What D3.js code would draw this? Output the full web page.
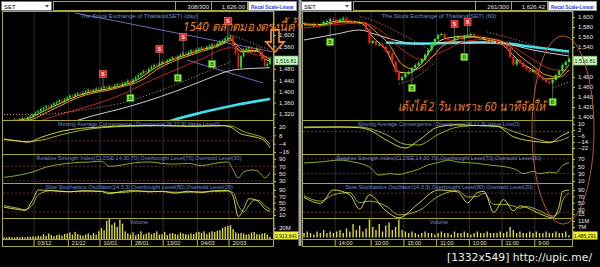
<!DOCTYPE html>
<html>
<head>
<meta charset="utf-8">
<script src="https://cdn.jsdelivr.net/npm/d3@7/dist/d3.min.js"></script>
<style>
body { margin: 0; background: #000; }
svg { display: block; }
text { font-family: "Liberation Sans", Arial, sans-serif; }
</style>
</head>
<body>
<script>
// ---- left panel: SET daily ----
const leftDates = ["03/12", "21/12", "10/01", "28/01", "13/02", "04/03", "20/03"];
const leftDateIdx = [12, 25, 37, 49, 61, 74, 86];
const leftClose = [
  1288, 1292, 1285, 1295, 1300, 1296, 1302, 1305, 1299, 1308, 1312,
  1318, 1325, 1330, 1338, 1342, 1348, 1345, 1352, 1358, 1362,
  1368, 1365, 1372, 1378, 1385, 1382, 1390, 1394, 1388, 1396,
  1400, 1405, 1398, 1404, 1410, 1406, 1412, 1416, 1410, 1418,
  1415, 1422, 1426, 1420, 1428, 1432, 1438, 1430, 1442, 1450,
  1458, 1465, 1472, 1468, 1480, 1488, 1494, 1490, 1500, 1505,
  1502, 1510, 1515, 1520, 1516, 1524, 1530, 1535, 1528, 1538,
  1545, 1540, 1548, 1552, 1555, 1550, 1558, 1562, 1566, 1560,
  1570, 1576, 1580, 1588, 1592, 1596, 1560, 1535, 1485, 1525,
  1548, 1552, 1556, 1548, 1545, 1552, 1540, 1512, 1490, 1498, 1516.81
];
const leftVolume = [
  3, 3, 4, 3, 3, 4, 3, 4, 3, 4,
  4, 5, 4, 6, 5, 9, 6, 10, 7, 5,
  7, 8, 6, 9, 10, 12, 8, 13, 9, 7,
  6, 8, 10, 7, 11, 8, 14, 20, 16, 33,
  37, 26, 30, 22, 35, 28, 14, 10, 8, 12,
  7, 9, 14, 8, 10, 12, 9, 11, 14, 8,
  9, 13, 7, 10, 11, 9, 8, 12, 10, 9,
  8, 10, 9, 12, 13, 11, 14, 9, 12, 14,
  13, 15, 16, 20, 22, 24, 25, 18, 12, 10,
  11, 10, 8, 9, 12, 13, 9, 8, 10, 11, 8, 3.913641
];
const leftMaYellow = [[0,1292],[6,1298],[11,1310],[16,1335],[22,1360],[28,1385],[34,1400],[40,1410],[46,1425],[50,1438],[54,1462],[58,1488],[62,1505],[66,1520],[70,1532],[75,1548],[80,1560],[84,1578],[86,1588],[88,1560],[90,1540],[93,1545],[96,1545],[99,1515],[101,1508]];
const leftMaOrange = [[0,1288],[11,1302],[16,1325],[22,1352],[28,1378],[34,1395],[40,1405],[46,1420],[50,1430],[54,1450],[58,1478],[62,1497],[66,1513],[70,1526],[75,1542],[80,1556],[84,1572],[86,1582],[88,1570],[90,1550],[93,1540],[96,1542],[99,1525],[101,1512]];
const leftMaRed = [[0,1262],[10,1285],[20,1315],[30,1342],[37,1362],[45,1390],[56,1440],[66,1480],[75,1515],[86,1555],[90,1545],[95,1532],[101,1520]];
const leftMaWhite = [[0,1235],[20,1275],[33,1312],[45,1340],[54,1365],[65,1400],[76,1440],[87,1476],[95,1482],[101,1484]];
const leftMaCyan = [[40,1230],[55,1268],[64,1298],[75,1325],[88,1352],[101,1373]];
const leftDotted = [[[0,1318],[11,1318],[20,1322],[30,1335],[45,1360],[56,1392],[66,1428],[76,1466],[86,1505]], [[86,1600],[92,1580],[97,1560],[101,1548]]];
const leftTrend = [[[27,1678],[102,1540]], [[69.5,1511],[98.3,1430]]];
const leftSignals = [
  {i: 37.6, v: 1462, t: "S"}, {i: 59, v: 1550, t: "S"}, {i: 68, v: 1593, t: "S"}, {i: 85, v: 1650, t: "S"},
  {i: 48, v: 1377, t: "B"}, {i: 66, v: 1448, t: "B"}, {i: 79, v: 1497, t: "B"}
];
const leftMacd = [[0,2],[5,0],[9,-2],[14,5],[22,14],[29,18],[37,20],[48,22],[60,22],[71,21],[83,22],[87,18],[89,12],[92,8],[96,5],[99,0],[101,-10]];
const leftMacdSig = [[0,3],[9,-1],[14,1],[22,9],[29,15],[37,19],[48,21],[60,22],[71,21],[83,22],[87,21],[89,17],[92,12],[96,8],[99,3],[101,-5]];
const leftRsi = [[0,40],[5,45],[11,55],[16,68],[20,74],[27,80],[33,82],[37,84],[40,70],[45,74],[50,80],[55,82],[60,78],[65,76],[70,78],[75,72],[80,78],[85,82],[87,60],[89,38],[91,55],[94,60],[96,58],[98,45],[99,38],[101,52]];
const leftStochK = [[0,35],[5,28],[8,25],[11,60],[13,90],[18,88],[25,84],[30,88],[37,85],[40,78],[45,86],[50,88],[55,84],[60,86],[65,80],[70,86],[75,82],[80,88],[85,88],[87,70],[89,5],[91,30],[93,62],[95,60],[97,50],[99,30],[101,22]];
const leftStochD = [[0,40],[5,32],[8,27],[11,45],[13,75],[18,88],[25,85],[30,86],[37,86],[40,82],[45,82],[50,86],[55,86],[60,85],[65,83],[70,83],[75,84],[80,85],[85,87],[87,82],[89,40],[91,20],[93,40],[95,58],[97,56],[99,40],[101,28]];

// ---- right panel: SET 60 minutes ----
const rightDates = ["14:00", "10:00", "15:00", "11:00", "10:00", "11:00", "9:00"];
const rightDateIdx = [10, 21, 31, 41, 51, 61, 71];
const rightClose = [
  1588, 1585, 1582, 1586, 1584, 1584, 1590, 1592, 1596, 1594,
  1592, 1595, 1598, 1593, 1592, 1590, 1588, 1590, 1586, 1575,
  1548, 1552, 1545, 1545, 1540, 1532, 1528, 1510, 1490, 1474,
  1480, 1486, 1490, 1498, 1504, 1508, 1515, 1525, 1534, 1545,
  1556, 1564, 1566, 1558, 1554, 1552, 1558, 1560, 1556, 1562,
  1564, 1566, 1562, 1560, 1556, 1558, 1552, 1550, 1552, 1548,
  1546, 1544, 1538, 1520, 1505, 1514, 1508, 1500, 1495, 1490,
  1494, 1486, 1480, 1474, 1470, 1468, 1474, 1484, 1492, 1504, 1510, 1516.81
];
const rightVolume = [
  3, 4, 3, 2, 4, 3, 5, 3, 4, 3,
  4, 5, 3, 6, 4, 9, 5, 8, 4, 6,
  12, 7, 5, 9, 4, 8, 10, 5, 7, 12,
  5, 4, 3, 4, 3, 2, 3, 4, 3, 3,
  2, 3, 4, 3, 3, 2, 4, 3, 3, 4,
  3, 2, 3, 4, 3, 3, 4, 3, 3, 3,
  4, 3, 4, 7, 5, 3, 4, 3, 3, 4,
  3, 4, 3, 3, 4, 3, 3, 4, 3, 3, 4, 1.485291
];
const rightMaYellow = [[0,1586],[5,1585],[10,1592],[15,1591],[18,1586],[21,1560],[25,1535],[29,1490],[32,1488],[36,1508],[40,1545],[44,1558],[50,1562],[56,1554],[60,1548],[63,1530],[66,1510],[70,1494],[74,1476],[77,1478],[81,1505]];
const rightMaOrange = [[0,1584],[6,1585],[12,1590],[18,1589],[22,1570],[26,1545],[30,1505],[34,1495],[38,1512],[42,1540],[46,1554],[52,1560],[58,1555],[62,1546],[66,1522],[70,1502],[74,1484],[78,1480],[81,1494]];
const rightMaRed = [[0,1578],[10,1585],[18,1588],[24,1570],[30,1535],[36,1515],[42,1530],[50,1552],[58,1556],[64,1540],[70,1515],[76,1495],[81,1492]];
const rightMaWhite = [[0,1554],[10,1566],[17,1574],[22,1565],[27,1555],[35,1546],[45,1550],[55,1550],[62,1546],[70,1534],[81,1522]];
const rightMaCyan = [[25,1549],[35,1547],[45,1548],[55,1549],[62,1547],[70,1540],[81,1531]];
const rightDotted = [[[17,1602],[24,1585],[30,1565],[38,1536]], [[56,1570],[64,1556],[72,1540],[81,1526]], [[29,1466],[34,1478],[40,1510]], [[76,1458],[81,1470]]];
const rightTrend = [];
const rightSignals = [
  {i: 46, v: 1586, t: "S"}, {i: 50, v: 1590, t: "S"},
  {i: 8, v: 1550, t: "B"}, {i: 33, v: 1458, t: "B"}, {i: 49, v: 1520, t: "B"}, {i: 76, v: 1430, t: "B"}
];
const rightMacd = [[0,6],[11,6],[17,5],[20,2],[25,-11],[31,-22],[35,-12],[41,6],[47,9],[53,8],[59,7],[64,-7],[72,-14],[75,-15],[79,-5],[81,-1]];
const rightMacdSig = [[0,5],[11,6],[17,6],[20,4],[25,-4],[31,-17],[35,-18],[41,-4],[47,6],[53,8],[59,7],[64,0],[72,-11],[75,-14],[79,-11],[81,-7]];
const rightRsi = [[0,59],[5,62],[11,67],[15,62],[20,48],[23,26],[26,30],[29,28],[32,34],[35,42],[38,54],[41,60],[44,67],[47,62],[53,58],[58,52],[62,48],[65,40],[67,30],[70,36],[72,30],[75,34],[77,32],[79,52],[81,60]];
const rightStochK = [[0,67],[5,48],[9,90],[14,75],[17,30],[20,75],[25,25],[29,3],[35,48],[41,90],[47,84],[50,50],[53,82],[55,86],[58,20],[61,60],[64,25],[66,40],[68,35],[72,16],[76,3],[78,40],[79,85],[81,90]];
const rightStochD = [[0,72],[5,55],[9,75],[14,82],[17,50],[20,55],[25,40],[29,12],[35,25],[41,70],[47,88],[50,68],[53,70],[55,80],[58,45],[61,45],[64,40],[66,33],[68,38],[72,25],[76,8],[78,20],[79,55],[81,80]];

const W = 600, H = 267;
const OLIVE = "#a8a830";
const panes = {price: [11, 120], macd: [120, 154], rsi: [154, 183], stoch: [183, 218], vol: [218, 239], date: [239, 246]};

const svg = d3.select("body").append("svg").attr("width", W).attr("height", H).style("background", "#000");

function smooth(x, y) {
  return d3.line().x(d => x(d[0])).y(d => y(d[1])).curve(d3.curveMonotoneX);
}

function axisAt(g, p, scale, ticks, fmt) {
  const a = g.append("g").attr("transform", `translate(${p.right + 1},0)`)
    .call(d3.axisRight(scale).tickValues(ticks).tickFormat(fmt).tickSize(2).tickPadding(3));
  a.select(".domain").remove();
  a.selectAll("line").attr("stroke", "#b0b0b0");
  a.selectAll("text").attr("fill", "#e8e8e8").style("font-size", "6px");
}

function header(g, p) {
  const o = p.left - 2;
  g.append("rect").attr("x", o + 1.5).attr("y", 1.5).attr("width", 50).attr("height", 9).attr("fill", "#fff").attr("stroke", "#777");
  g.append("text").attr("x", o + 4).attr("y", 8.5).attr("fill", "#000").style("font-size", "6px").text("SET");
  g.append("path").attr("d", `M${o + 45},5 h4 l-2,2.5 z`).attr("fill", "#444");
  const boxes = [[o + 53, 122, ""], [o + 175, 36, p.count], [o + 211, 36, p.last]];
  boxes.forEach(b => {
    g.append("rect").attr("x", b[0] + 0.5).attr("y", 1.5).attr("width", b[1]).attr("height", 9).attr("fill", "#000").attr("stroke", OLIVE);
    g.append("text").attr("x", b[0] + b[1] - 2).attr("y", 8.5).attr("text-anchor", "end")
      .attr("fill", "#e0e0e0").style("font-size", "6px").text(b[2]);
  });
  g.append("rect").attr("x", o + 248.5).attr("y", 1.5).attr("width", 48).attr("height", 9).attr("fill", "#fff").attr("stroke", "#999");
  g.append("text").attr("x", o + 251).attr("y", 8.5).attr("fill", "#2a3ad8")
    .style("font-size", "5.8px").style("font-weight", "bold")
    .attr("textLength", 43).attr("lengthAdjust", "spacingAndGlyphs").text("Recal Scale-Linear");
}

function drawPanel(p) {
  const g = svg.append("g");
  const n = p.close.length;
  const x = d3.scaleLinear().domain([0, n - 1]).range([p.left + 2, p.right - 3]);
  const yP = d3.scaleLinear().domain(p.priceDomain).range(p.priceRange);
  const yM = d3.scaleLinear().domain(p.macdDomain).range(p.macdRange);
  const yR = d3.scaleLinear().domain(p.rsiDomain).range(p.rsiRange);
  const yS = d3.scaleLinear().domain(p.stochDomain).range(p.stochRange);
  const yV = d3.scaleLinear().domain(p.volDomain).range(p.volRange);

  const clipId = "clip" + p.left;
  svg.append("clipPath").attr("id", clipId).append("rect")
    .attr("x", p.left).attr("y", panes.price[0] + 1).attr("width", p.right - p.left).attr("height", panes.price[1] - panes.price[0] - 1);

  // vertical grid at the date ticks
  g.selectAll("line.vg").data(p.dateIdx).join("line").attr("class", "vg")
    .attr("x1", d => x(d) - 1.5).attr("x2", d => x(d) - 1.5)
    .attr("y1", panes.price[0]).attr("y2", panes.date[1])
    .attr("stroke", "#2e2e2e").attr("stroke-width", 1);

  // pane frames
  Object.values(panes).forEach(r => {
    g.append("rect").attr("x", p.left + 0.5).attr("y", r[0] + 0.5).attr("width", p.right - p.left).attr("height", r[1] - r[0])
      .attr("fill", "none").attr("stroke", OLIVE).attr("stroke-width", 1);
  });

  // ---- price pane ----
  const pg = g.append("g").attr("clip-path", `url(#${clipId})`);
  pg.append("text").attr("x", p.left + 137).attr("y", 18).attr("text-anchor", "middle")
    .attr("fill", "#6e8ed6").style("font-size", "6px").text(p.title);
  p.trend.forEach(t => pg.append("path").attr("d", smooth(x, yP).curve(d3.curveLinear)(t))
    .attr("fill", "none").attr("stroke", "#7d78c8").attr("stroke-width", 0.9));
  pg.append("path").attr("d", smooth(x, yP)(p.maCyan)).attr("fill", "none").attr("stroke", "#3fe0ea").attr("stroke-width", 2.6);
  pg.append("path").attr("d", smooth(x, yP)(p.maWhite)).attr("fill", "none").attr("stroke", "#cfcfcf").attr("stroke-width", 1);
  pg.append("path").attr("d", smooth(x, yP)(p.maRed)).attr("fill", "none").attr("stroke", "#c42020").attr("stroke-width", 1);
  p.dotted.forEach(s => pg.append("path").attr("d", smooth(x, yP)(s)).attr("fill", "none")
    .attr("stroke", "#e09090").attr("stroke-width", 1).attr("stroke-dasharray", "1,2"));
  pg.append("path").attr("d", smooth(x, yP)(p.maOrange)).attr("fill", "none").attr("stroke", "#ff9a20").attr("stroke-width", 1);
  pg.append("path").attr("d", smooth(x, yP)(p.maYellow)).attr("fill", "none").attr("stroke", "#f0e030").attr("stroke-width", 1);

  const bars = p.close.map((c, i) => ({i: i, o: i ? p.close[i - 1] : c, c: c}));
  const up = d => d.c >= d.o;
  pg.selectAll("line.wick").data(bars).join("line").attr("class", "wick")
    .attr("x1", d => x(d.i)).attr("x2", d => x(d.i))
    .attr("y1", d => yP(Math.max(d.o, d.c)) - 1.5).attr("y2", d => yP(Math.min(d.o, d.c)) + 1.5)
    .attr("stroke", d => up(d) ? "#30e030" : "#e82020").attr("stroke-width", 0.7);
  pg.selectAll("rect.body").data(bars).join("rect").attr("class", "body")
    .attr("x", d => x(d.i) - p.bw / 2).attr("width", p.bw)
    .attr("y", d => yP(Math.max(d.o, d.c))).attr("height", d => Math.max(1, Math.abs(yP(d.o) - yP(d.c))))
    .attr("fill", d => up(d) ? "#30e030" : "#e82020");

  // buy / sell signals
  const sig = pg.selectAll("g.sig").data(p.signals).join("g").attr("class", "sig")
    .attr("transform", d => `translate(${x(d.i)},${yP(d.v)})`);
  sig.append("line").attr("x1", 0).attr("x2", 0).attr("y1", 0)
    .attr("y2", d => yP(p.close[Math.round(d.i)]) - yP(d.v)).attr("stroke", "#9a9a9a").attr("stroke-width", 0.6);
  sig.append("rect").attr("x", -3.5).attr("y", -3.5).attr("width", 7).attr("height", 7)
    .attr("fill", d => d.t === "S" ? "#e02828" : "#8cf048").attr("stroke", d => d.t === "S" ? "#ff7070" : "#3c9c10").attr("stroke-width", 0.6);
  sig.append("text").attr("y", 2).attr("text-anchor", "middle").style("font-size", "5px").style("font-weight", "bold")
    .attr("fill", d => d.t === "S" ? "#fff" : "#1a5a00").text(d => d.t);

  axisAt(g, p, yP, p.priceTicks, d3.format(","));
  const lastY = yP(p.close[n - 1]) + 2;
  g.append("rect").attr("x", p.right + 1).attr("y", lastY - 4.5).attr("width", 24).attr("height", 9)
    .attr("fill", "#c8f8c0").attr("stroke", "#50a050").attr("stroke-width", 0.6);
  g.append("text").attr("x", p.right + 2.5).attr("y", lastY + 2.2).attr("fill", "#103010").style("font-size", "6px")
    .attr("textLength", 21).attr("lengthAdjust", "spacingAndGlyphs")
    .text(d3.format(",.2f")(p.close[n - 1]));

  // ---- indicator panes ----
  function refLine(scale, v) {
    g.append("line").attr("x1", p.left + 1).attr("x2", p.right).attr("y1", scale(v)).attr("y2", scale(v))
      .attr("stroke", "#8a3030").attr("stroke-width", 0.8).attr("stroke-dasharray", "2,2");
  }
  function paneTitle(y, s) {
    g.append("text").attr("x", p.left + 137).attr("y", y).attr("text-anchor", "middle")
      .attr("fill", "#6e8ed6").style("font-size", "5.5px").text(s);
  }
  function ind(scale, data, color) {
    g.append("path").attr("d", smooth(x, scale)(data)).attr("fill", "none").attr("stroke", color).attr("stroke-width", 0.9);
  }

  refLine(yM, 0);
  paneTitle(126, "Moving Average Convergence / Divergence(26,12,9),Value Line(0)");
  ind(yM, p.macdSig, "#a8c838");
  ind(yM, p.macd, "#e8e850");
  axisAt(g, p, yM, p.macdTicks, d3.format("d"));

  refLine(yR, 70);
  refLine(yR, 30);
  paneTitle(160, "Relative Strength Index(CLOSE,14,30,70),Overbought Level(70),Oversold Level(30)");
  ind(yR, p.rsi, "#9cbc30");
  axisAt(g, p, yR, p.rsiTicks, d3.format("d"));

  refLine(yS, 80);
  refLine(yS, 20);
  paneTitle(189, "Slow Stochastics Oscillator(14,3,3),Overbought Level(80),Oversold Level(20)");
  ind(yS, p.stochD, "#a8c838");
  ind(yS, p.stochK, "#e8e850");
  axisAt(g, p, yS, p.stochTicks, d3.format("d"));

  paneTitle(224, "Volume");
  g.selectAll("rect.vol").data(p.volume).join("rect").attr("class", "vol")
    .attr("x", (d, i) => x(i) - 0.7).attr("width", 1.4)
    .attr("y", d => Math.max(panes.vol[0] + 1, yV(d))).attr("height", d => yV(0) - Math.max(panes.vol[0] + 1, yV(d)))
    .attr("fill", "#dada3a");
  axisAt(g, p, yV, p.volTicks, d => d + "M");
  g.append("rect").attr("x", p.right + 1).attr("y", 231.5).attr("width", 24.5).attr("height", 8).attr("fill", "#f4f430");
  g.append("text").attr("x", p.right + 2).attr("y", 238).attr("fill", "#000").style("font-size", "6px")
    .attr("textLength", 22).attr("lengthAdjust", "spacingAndGlyphs")
    .text(d3.format(",")(Math.round(p.volume[n - 1] * 1e6)));

  // axis line
  g.append("line").attr("x1", p.right + 1).attr("x2", p.right + 1).attr("y1", panes.price[0]).attr("y2", panes.vol[1])
    .attr("stroke", OLIVE).attr("stroke-width", 1);

  // date axis
  g.selectAll("line.dt").data(p.dateIdx).join("line").attr("class", "dt")
    .attr("x1", d => x(d) - 1.5).attr("x2", d => x(d) - 1.5).attr("y1", panes.date[0]).attr("y2", panes.date[1])
    .attr("stroke", OLIVE);
  g.selectAll("text.dt").data(p.dates).join("text").attr("class", "dt")
    .attr("x", (d, i) => x(p.dateIdx[i]) + 2).attr("y", 245).attr("fill", "#e8e8b0").style("font-size", "5.5px").text(d => d);

  header(g, p);
}

drawPanel({
  left: 2, right: 273, bw: 1.7, count: "308/300", last: "1,626.00",
  title: "The Stock Exchange of Thailand(SET) (day)",
  close: leftClose, volume: leftVolume, dates: leftDates, dateIdx: leftDateIdx,
  maYellow: leftMaYellow, maOrange: leftMaOrange, maRed: leftMaRed, maWhite: leftMaWhite, maCyan: leftMaCyan,
  dotted: leftDotted, trend: leftTrend, signals: leftSignals,
  macd: leftMacd, macdSig: leftMacdSig, rsi: leftRsi, stochK: leftStochK, stochD: leftStochD,
  priceDomain: [1320, 1600], priceRange: [114, 35], priceTicks: [1320, 1360, 1400, 1440, 1480, 1560, 1600],
  macdDomain: [-16, 20], macdRange: [152, 127], macdTicks: [20, 8, -4, -16],
  rsiDomain: [30, 90], rsiRange: [181, 159], rsiTicks: [90, 70, 50, 30],
  stochDomain: [10, 90], stochRange: [215, 190], stochTicks: [90, 70, 50, 30, 10],
  volDomain: [0, 20], volRange: [239, 228], volTicks: [20]
});

drawPanel({
  left: 302, right: 572, bw: 2.2, count: "261/300", last: "1,626.42",
  title: "The Stock Exchange of Thailand(SET) (60)",
  close: rightClose, volume: rightVolume, dates: rightDates, dateIdx: rightDateIdx,
  maYellow: rightMaYellow, maOrange: rightMaOrange, maRed: rightMaRed, maWhite: rightMaWhite, maCyan: rightMaCyan,
  dotted: rightDotted, trend: rightTrend, signals: rightSignals,
  macd: rightMacd, macdSig: rightMacdSig, rsi: rightRsi, stochK: rightStochK, stochD: rightStochD,
  priceDomain: [1400, 1600], priceRange: [117, 17], priceTicks: [1400, 1420, 1440, 1460, 1480, 1540, 1560, 1580, 1600],
  macdDomain: [-22, 10], macdRange: [148, 124], macdTicks: [10, 2, -6, -14, -22],
  rsiDomain: [10, 70], rsiRange: [181, 159], rsiTicks: [70, 50, 30, 10],
  stochDomain: [10, 90], stochRange: [215.5, 190], stochTicks: [90, 70, 50, 30, 15],
  volDomain: [0, 11], volRange: [237.5, 221], volTicks: [11, 7]
});

// separator between the two charts
svg.append("rect").attr("x", 298.5).attr("y", 0).attr("width", 3).attr("height", 246).attr("fill", "#a8a8a8");

// ---- hand drawn notes ----
svg.append("ellipse").attr("cx", 563).attr("cy", 130).attr("rx", 31).attr("ry", 94)
  .attr("fill", "none").attr("stroke", "#b85a28").attr("stroke-width", 1);
svg.append("path").attr("d", "M271,30 h8 v12 h5 l-9,10 l-9,-10 h5 z")
  .attr("fill", "none").attr("stroke", "#e8862a").attr("stroke-width", 1.8);
svg.append("text").attr("x", 183).attr("y", 31).attr("fill", "#e8802e").style("font-size", "13px").style("font-style", "italic")
  .style("font-family", "'Noto Sans', 'DejaVu Sans', sans-serif")
  .attr("textLength", 118).attr("lengthAdjust", "spacingAndGlyphs").text("1540 ตลาดมองตรงนี้ค้ำ");
svg.append("text").attr("x", 398).attr("y", 111).attr("fill", "#e8802e").style("font-size", "13px").style("font-style", "italic")
  .style("font-family", "'Noto Sans', 'DejaVu Sans', sans-serif")
  .attr("textLength", 148).attr("lengthAdjust", "spacingAndGlyphs").text("เด้งได้ 2 วัน เพราะ 60 นาทีจัดให้");

svg.append("text").attr("x", 447).attr("y", 261).attr("fill", "#f0f0f0").style("font-size", "11px")
  .style("font-family", "'DejaVu Sans', sans-serif").attr("textLength", 145).attr("lengthAdjust", "spacingAndGlyphs")
  .text("[1332x549] http://upic.me/");
</script>
</body>
</html>
